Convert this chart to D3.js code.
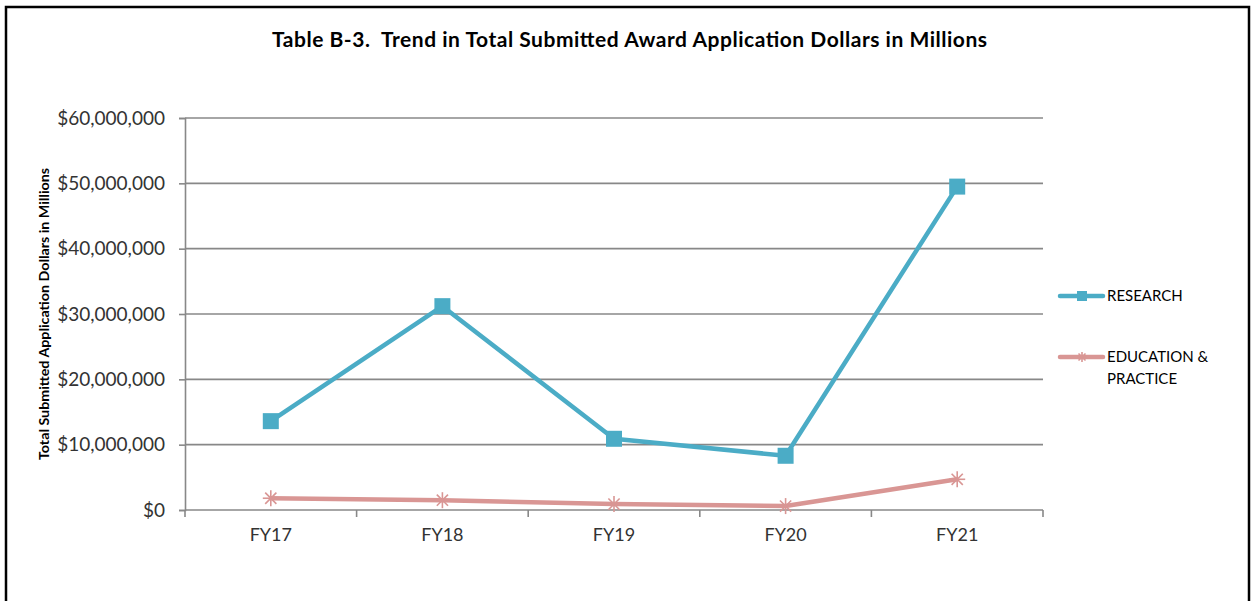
<!DOCTYPE html>
<html><head><meta charset="utf-8">
<script src="https://cdn.jsdelivr.net/npm/d3@7"></script>
<style>html,body{margin:0;padding:0;background:#fff;}svg{display:block;}</style>
</head><body>
<svg id="c" width="1253" height="601"></svg>
<script>
const categories = ["FY17","FY18","FY19","FY20","FY21"];
const research = [13600000, 31200000, 10900000, 8300000, 49500000];
const education = [1800000, 1500000, 900000, 600000, 4700000];
const yTicks = [0,10000000,20000000,30000000,40000000,50000000,60000000];
const seriesNames = ["RESEARCH","EDUCATION & PRACTICE"];
const colors = ["#4BACC6","#D99694"];

const svg = d3.select("#c");
const font = "Lato, 'Open Sans', sans-serif";
// frame
svg.append("rect").attr("x",6).attr("y",7).attr("width",1243).attr("height",620)
  .attr("fill","none").attr("stroke","#000").attr("stroke-width",2.5);

const L=185,R=1043,T=118,B=510;
const x = d3.scaleBand().domain(categories).range([L,R]);
const y = d3.scaleLinear().domain([0,60000000]).range([B,T]);

// title
svg.append("text").attr("x",272).attr("y",47)
  .attr("font-family",font).attr("font-weight","bold").attr("font-size",21).attr("fill","#000")
  .style("white-space","pre").attr("textLength",715).attr("lengthAdjust","spacing")
  .text("Table B-3.  Trend in Total Submitted Award Application Dollars in Millions");

// gridlines
svg.append("g").selectAll("line").data(yTicks).join("line")
  .attr("x1",L).attr("x2",R).attr("y1",d=>y(d)).attr("y2",d=>y(d))
  .attr("stroke","#888").attr("stroke-width",1.6);

// y axis
const fmt = d=>"$"+d3.format(",")(d);
const ya = svg.append("g").attr("transform",`translate(${L},0)`)
  .call(d3.axisLeft(y).tickValues(yTicks).tickFormat(fmt).tickSize(6).tickPadding(14));
ya.select(".domain").attr("stroke","#888").attr("stroke-width",1.6);
ya.selectAll(".tick line").attr("stroke","#888").attr("stroke-width",1.6);
ya.selectAll("text").attr("font-family",font).attr("font-size",19).attr("fill","#333");

// x axis
const xa = svg.append("g").attr("transform",`translate(0,${B})`)
  .call(d3.axisBottom(x).tickSize(0).tickPadding(18));
xa.select(".domain").remove();
xa.selectAll("text").attr("font-family",font).attr("font-size",18).attr("fill","#333");
const bounds = categories.map(c=>x(c)).concat([R]);
svg.append("g").selectAll("line").data(bounds).join("line")
  .attr("x1",d=>d).attr("x2",d=>d).attr("y1",B).attr("y2",B+7)
  .attr("stroke","#888").attr("stroke-width",1.6);

// y label
svg.append("text").attr("transform","translate(49,314) rotate(-90)").attr("text-anchor","middle")
  .attr("font-family",font).attr("font-weight","bold").attr("font-size",12.5).attr("fill","#000")
  .attr("textLength",292).attr("lengthAdjust","spacingAndGlyphs")
  .text("Total Submitted Application Dollars in Millions");

const cx = c=>x(c)+x.bandwidth()/2;
const line = d3.line().x((d,i)=>cx(categories[i])).y(d=>y(d));

function star(g, px, py, s, color){
  const r=s;
  [[-r,0,r,0],[-r*0.7,-r*0.7,r*0.7,r*0.7],[-r*0.7,r*0.7,r*0.7,-r*0.7],[0,-r,0,r]].forEach(a=>{
    g.append("line").attr("x1",px+a[0]).attr("y1",py+a[1]).attr("x2",px+a[2]).attr("y2",py+a[3])
     .attr("stroke",color).attr("stroke-width",1.6);
  });
}

// education series
svg.append("path").datum(education).attr("d",line).attr("fill","none")
  .attr("stroke",colors[1]).attr("stroke-width",4.5).attr("stroke-linejoin","round");
const eg = svg.append("g");
education.forEach((v,i)=>star(eg,cx(categories[i]),y(v),8,colors[1]));

// research series
svg.append("path").datum(research).attr("d",line).attr("fill","none")
  .attr("stroke",colors[0]).attr("stroke-width",4.5).attr("stroke-linejoin","round");
svg.append("g").selectAll("rect").data(research).join("rect")
  .attr("x",(d,i)=>cx(categories[i])-8).attr("y",d=>y(d)-8).attr("width",16).attr("height",16)
  .attr("fill",colors[0]);

// legend
const lg = svg.append("g");
lg.append("line").attr("x1",1060).attr("x2",1103).attr("y1",296).attr("y2",296)
  .attr("stroke",colors[0]).attr("stroke-width",4.5).attr("stroke-linecap","round");
lg.append("rect").attr("x",1077).attr("y",291).attr("width",10).attr("height",10).attr("fill",colors[0]);
lg.append("text").attr("x",1107).attr("y",301).attr("font-family",font).attr("font-size",15).attr("fill","#000").text(seriesNames[0]);
lg.append("line").attr("x1",1060).attr("x2",1103).attr("y1",357).attr("y2",357)
  .attr("stroke",colors[1]).attr("stroke-width",4.5).attr("stroke-linecap","round");
star(lg,1082,357,5,colors[1]);
lg.append("text").attr("x",1107).attr("y",362).attr("font-family",font).attr("font-size",15).attr("fill","#000").text("EDUCATION &");
lg.append("text").attr("x",1107).attr("y",384).attr("font-family",font).attr("font-size",15).attr("fill","#000").text("PRACTICE");
</script>
</body></html>
